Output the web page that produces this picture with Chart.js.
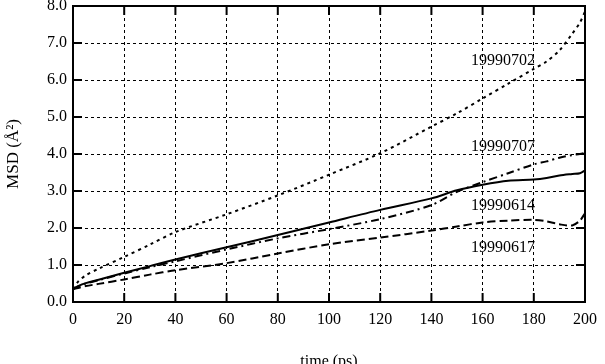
<!DOCTYPE html>
<html>
<head>
<meta charset="utf-8">
<script src="https://cdn.jsdelivr.net/npm/chart.js@4/dist/chart.umd.min.js"></script>
<style>
  html, body { margin: 0; padding: 0; background: #fff; }
  #wrap { width: 605px; height: 364px; }
</style>
</head>
<body>
<div id="wrap"><canvas id="msdChart" width="605" height="364"></canvas></div>
<script>
const times = [0, 2, 5, 10, 20, 30, 40, 60, 80, 100, 120, 140, 150, 160, 170, 180, 185, 190, 195, 198, 200];

// MSD values (A^2) per run
const msd990702 = [0.35, 0.55, 0.72, 0.9, 1.22, 1.55, 1.89, 2.37, 2.88, 3.44, 4.02, 4.74, 5.1, 5.5, 5.9, 6.3, 6.5, 6.8, 7.25, 7.55, 7.85];
const msd990707 = [0.35, 0.42, 0.5, 0.59, 0.77, 0.94, 1.1, 1.42, 1.72, 1.97, 2.24, 2.62, 2.98, 3.24, 3.48, 3.72, 3.8, 3.9, 3.97, 4.0, 4.03];
const msd990614 = [0.35, 0.43, 0.51, 0.6, 0.79, 0.97, 1.15, 1.48, 1.81, 2.15, 2.49, 2.8, 3.02, 3.17, 3.28, 3.31, 3.35, 3.42, 3.46, 3.48, 3.56];
const msd990617 = [0.35, 0.38, 0.43, 0.49, 0.61, 0.74, 0.86, 1.05, 1.31, 1.56, 1.74, 1.93, 2.04, 2.15, 2.2, 2.22, 2.18, 2.1, 2.07, 2.2, 2.4];

const runNames = ['19990702', '19990707', '19990614', '19990617'];
const xTicks = [0, 20, 40, 60, 80, 100, 120, 140, 160, 180, 200];
const yTicks = [0, 1, 2, 3, 4, 5, 6, 7, 8];

// where each run name is written inside the plot (data units)
const nameX = [155.5, 155.5, 155.5, 155.5];
const nameY = [6.51, 4.19, 2.59, 1.47];

const serif = "'Liberation Serif', 'DejaVu Serif', serif";

function toPoints(vals) {
  return times.map((t, i) => ({ x: t, y: vals[i] }));
}

// frame + inward tick marks, like the original plot
const framePlugin = {
  id: 'frame',
  afterDatasetsDraw(chart) {
    const { ctx, chartArea: a, scales: { x, y } } = chart;
    ctx.save();
    ctx.strokeStyle = '#000';
    ctx.lineWidth = 2;
    ctx.beginPath();
    xTicks.forEach(v => {
      const px = x.getPixelForValue(v);
      ctx.moveTo(px, a.bottom); ctx.lineTo(px, a.bottom - 9);
      ctx.moveTo(px, a.top); ctx.lineTo(px, a.top + 9);
    });
    yTicks.forEach(v => {
      const py = y.getPixelForValue(v);
      ctx.moveTo(a.left, py); ctx.lineTo(a.left + 9, py);
      ctx.moveTo(a.right, py); ctx.lineTo(a.right - 9, py);
    });
    ctx.stroke();
    ctx.strokeRect(a.left, a.top, a.right - a.left, a.bottom - a.top);
    ctx.restore();
  }
};

// run names written next to the curves
const namesPlugin = {
  id: 'names',
  afterDatasetsDraw(chart) {
    const { ctx, scales: { x, y } } = chart;
    ctx.save();
    ctx.fillStyle = '#000';
    ctx.font = '16px ' + serif;
    ctx.textAlign = 'left';
    ctx.textBaseline = 'middle';
    runNames.forEach((n, i) => {
      ctx.fillText(n, x.getPixelForValue(nameX[i]), y.getPixelForValue(nameY[i]));
    });
    ctx.restore();
  }
};

const ctx = document.getElementById('msdChart').getContext('2d');

new Chart(ctx, {
  type: 'line',
  data: {
    datasets: [
      { label: runNames[0], data: toPoints(msd990702), borderDash: [3, 4] },
      { label: runNames[1], data: toPoints(msd990707), borderDash: [8, 4, 2, 4] },
      { label: runNames[2], data: toPoints(msd990614), borderDash: [] },
      { label: runNames[3], data: toPoints(msd990617), borderDash: [8, 4] }
    ].map(d => Object.assign(d, {
      borderColor: '#000',
      borderWidth: 2,
      pointRadius: 0,
      tension: 0.3,
      fill: false
    }))
  },
  options: {
    responsive: false,
    animation: false,
    layout: { padding: { left: 0, right: 12, top: 6, bottom: 0 } },
    plugins: {
      legend: { display: false },
      tooltip: { enabled: false }
    },
    scales: {
      x: {
        type: 'linear',
        min: 0,
        max: 200,
        afterBuildTicks: s => { s.ticks = xTicks.map(v => ({ value: v })); },
        afterFit: s => { s.height = 62; },
        grid: { color: '#000', lineWidth: 1, drawTicks: false },
        border: { display: false, dash: [3, 3] },
        ticks: { color: '#000', padding: 8, maxRotation: 0, font: { family: serif, size: 16 } },
        title: {
          display: true,
          text: 'time (ps)',
          color: '#000',
          font: { family: serif, size: 16 },
          padding: { top: 0, bottom: -7 }
        }
      },
      y: {
        type: 'linear',
        min: 0,
        max: 8,
        afterBuildTicks: s => { s.ticks = yTicks.map(v => ({ value: v })); },
        afterFit: s => { s.width = 73; s.paddingTop = 0; s.paddingBottom = 0; },
        grid: { color: '#000', lineWidth: 1, drawTicks: false },
        border: { display: false, dash: [3, 3] },
        ticks: {
          color: '#000',
          padding: 6,
          font: { family: serif, size: 16 },
          callback: v => v.toFixed(1)
        },
        title: {
          display: true,
          text: 'MSD (Å²)',
          color: '#000',
          font: { family: serif, size: 17 },
          padding: { top: 3, bottom: 0 }
        }
      }
    }
  },
  plugins: [framePlugin, namesPlugin]
});
</script>
</body>
</html>
